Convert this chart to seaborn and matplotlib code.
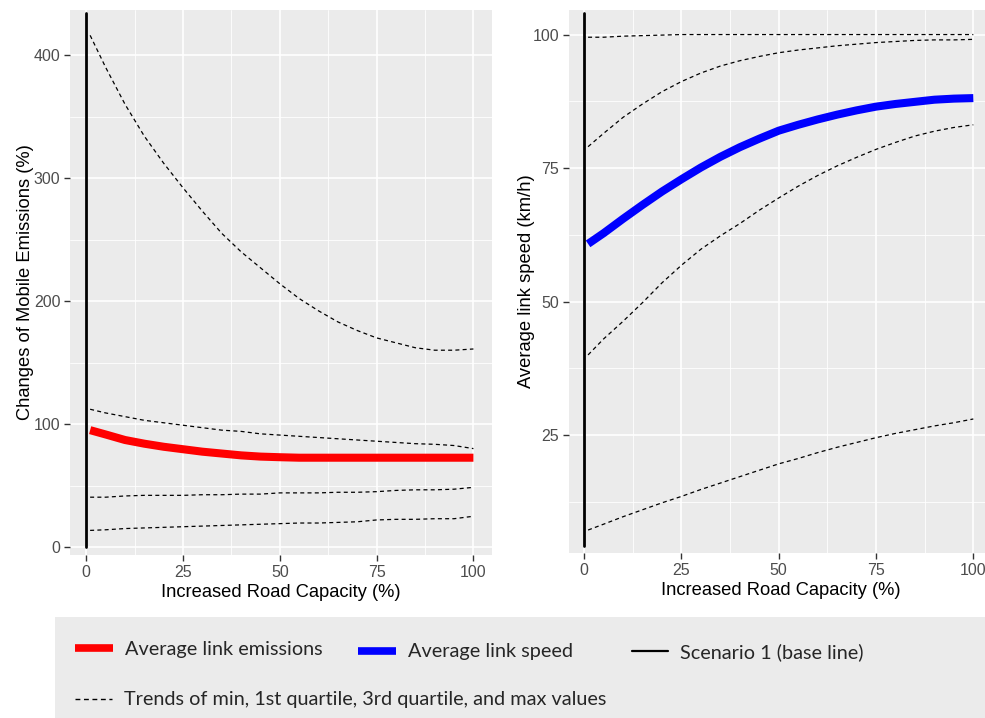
import matplotlib
matplotlib.use("Agg")
import matplotlib.pyplot as plt
from matplotlib.lines import Line2D
from matplotlib.ticker import MultipleLocator
from matplotlib import font_manager
import seaborn as sns
import pandas as pd
import numpy as np

capacity = [1, 5, 10, 15, 20, 25, 30, 35, 40, 45, 50, 55, 60, 65, 70, 75, 80, 85, 90, 95, 100]

# Left panel: changes of mobile emissions (%)
emis_mean = [95, 91.5, 87, 84, 81.5, 79.5, 77.5, 76, 74.5, 73.5, 73, 72.6, 72.6, 72.6, 72.6, 72.6, 72.6, 72.6, 72.6, 72.6, 72.6]
emis_max = [416, 390, 360, 334, 312, 292, 273, 255, 240, 227, 214, 202, 192, 183, 176, 170, 166, 162, 160, 160, 161]
emis_q3 = [112, 109, 106, 103, 101, 99, 97, 95, 94, 92, 91, 90, 89, 88, 87, 86, 85, 84, 83.5, 82.5, 80]
emis_q1 = [40.5, 40.5, 41.5, 42, 42, 42, 42.5, 42.5, 43, 43, 44, 44, 44, 44.5, 44.5, 45, 46, 46.5, 46.5, 47, 48.5]
emis_min = [13.5, 14, 15, 15.5, 16, 16.5, 17, 17.5, 18, 18.5, 19, 19.5, 19.5, 20, 20.5, 22, 22.5, 22.5, 23, 23, 25]

# Right panel: average link speed (km/h)
speed_mean = [60.8, 62.8, 65.5, 68.1, 70.6, 72.9, 75.1, 77.1, 78.9, 80.5, 82.0, 83.1, 84.1, 85.0, 85.8, 86.5, 87.0, 87.4, 87.8, 88.0, 88.1]
speed_max = [99.5, 99.5, 99.7, 99.8, 99.9, 100, 100, 100, 100, 100, 100, 100, 100, 100, 100, 100, 100, 100, 100, 100, 100]
speed_q3 = [79, 81.5, 84.5, 87, 89.3, 91.2, 92.8, 94.1, 95.1, 95.9, 96.6, 97.1, 97.5, 97.9, 98.2, 98.5, 98.7, 98.9, 99, 99, 99.1]
speed_q1 = [40, 43, 46.3, 49.8, 53.5, 56.8, 59.8, 62.3, 64.6, 67.1, 69.4, 71.6, 73.6, 75.4, 77, 78.5, 79.8, 81, 81.9, 82.6, 83.1]
speed_min = [7.2, 8.3, 9.7, 11, 12.3, 13.5, 14.8, 16, 17.2, 18.4, 19.6, 20.6, 21.7, 22.7, 23.6, 24.5, 25.3, 26, 26.7, 27.3, 28]

x_ticks = [0, 25, 50, 75, 100]
left_yticks = [0, 100, 200, 300, 400]
right_yticks = [25, 50, 75, 100]

xlabel = "Increased Road Capacity (%)"
left_ylabel = "Changes of Mobile Emissions (%)"
right_ylabel = "Average link speed (km/h)"
legend_labels = ["Average link emissions", "Average link speed", "Scenario 1 (base line)",
                 "Trends of min, 1st quartile, 3rd quartile, and max values"]

sns.set_theme(style="darkgrid")
plt.rcParams['font.family'] = ['Liberation Sans', 'DejaVu Sans']

BG = "#EBEBEB"
TICKC = "#4D4D4D"

fig = plt.figure(figsize=(9.85, 7.18), dpi=100)
W, H = 985, 718
axL = fig.add_axes([70 / W, 1 - 555 / H, 422 / W, 545 / H])
axR = fig.add_axes([569 / W, 1 - 553 / H, 423 / W, 543 / H])

dfL = pd.DataFrame({"x": capacity, "mean": emis_mean, "max": emis_max, "q3": emis_q3,
                    "q1": emis_q1, "min": emis_min})
dfR = pd.DataFrame({"x": capacity, "mean": speed_mean, "max": speed_max, "q3": speed_q3,
                    "q1": speed_q1, "min": speed_min})

dash = (0, (3.2, 2.6))

def draw(ax, df, color, xlim, ylim, yticks, ylabel, base_frac, ypad):
    ax.set_facecolor(BG)
    for col in ["max", "q3", "q1", "min"]:
        sns.lineplot(data=df, x="x", y=col, ax=ax, color="black", lw=0.9,
                     linestyle=dash, legend=False)
    sns.lineplot(data=df, x="x", y="mean", ax=ax, color=color, lw=5.8, legend=False,
                 solid_capstyle="butt")
    ax.axvline(0, ymin=base_frac, ymax=0.995, color="black", lw=2)
    ax.set_xlim(*xlim)
    ax.set_ylim(*ylim)
    ax.set_xticks(x_ticks)
    ax.set_yticks(yticks)
    ax.xaxis.set_minor_locator(MultipleLocator(12.5))
    step = yticks[1] - yticks[0]
    ax.yaxis.set_minor_locator(MultipleLocator(step / 2))
    ax.grid(True, which="major", color="white", lw=1.2)
    ax.grid(True, which="minor", color="white", lw=0.6)
    ax.set_axisbelow(True)
    for s in ax.spines.values():
        s.set_visible(False)
    ax.tick_params(axis="both", which="major", length=4, width=1, color="#333333",
                   labelcolor=TICKC, labelsize=11.5, pad=3, direction="out")
    ax.tick_params(axis="both", which="minor", length=0)
    ax.tick_params(bottom=True, left=True)
    ax.set_xlabel(xlabel, fontsize=13.2, color="black", labelpad=3)
    ax.set_ylabel(ylabel, fontsize=13.2, color="black", labelpad=ypad)

draw(axL, dfL, "#FF0000", (-4.2, 104.8), (-6.5, 436.6), left_yticks, left_ylabel, 0.0147, 0)
draw(axR, dfR, "#0000FF", (-3.9, 104.8), (2.9, 104.6), right_yticks, right_ylabel, 0.013, -1.5)

# Legend box
legax = fig.add_axes([55 / W, 0, 930 / W, 101 / H])
legax.set_facecolor(BG)
legax.set_xticks([])
legax.set_yticks([])
legax.grid(False)
for s in legax.spines.values():
    s.set_visible(False)

# legend font: a humanist sans, sized so the label width matches the reference
leg_family = "Lato"
names = {f.name for f in font_manager.fontManager.ttflist}
if leg_family not in names:
    leg_family = "Liberation Sans"
renderer = fig.canvas.get_renderer()
probe = fig.text(0, 0, legend_labels[0], fontsize=10, family=leg_family)
wpx = probe.get_window_extent(renderer=renderer).width
probe.remove()
lfs = 10 * 198.0 / wpx

handles = [Line2D([], [], color="#FF0000", lw=5.5, solid_capstyle="butt"),
           Line2D([], [], color="#0000FF", lw=5.5, solid_capstyle="butt"),
           Line2D([], [], color="black", lw=1.6),
           Line2D([], [], color="black", lw=1, linestyle=(0, (3.5, 2.6)))]
positions = [(75, 649), (358, 652), (632, 652), (75, 700)]
hlens = [38, 38, 36, 37]
for h, lab, (px, py), hl in zip(handles, legend_labels, positions, hlens):
    fpx = lfs * 100 / 72
    fig.legend(handles=[h], labels=[lab], loc="center left",
               bbox_to_anchor=(px / W, 1 - py / H), frameon=False,
               borderpad=0, borderaxespad=0, handlelength=hl / fpx,
               handletextpad=12 / fpx,
               prop={"family": [leg_family, "DejaVu Sans"], "size": lfs})

fig.savefig("out.png", dpi=100, facecolor="white")
